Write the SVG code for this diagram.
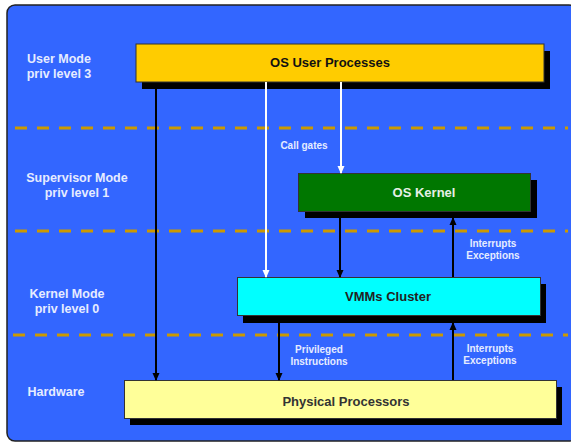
<svg xmlns="http://www.w3.org/2000/svg" width="571" height="445" viewBox="0 0 571 445">
<defs>
<marker id="ab" markerWidth="8" markerHeight="8" refX="7" refY="4" orient="auto" markerUnits="userSpaceOnUse"><path d="M0,0.5 L8,4 L0,7.5 Z" fill="#000"/></marker>
<marker id="aw" markerWidth="8" markerHeight="8" refX="7" refY="4" orient="auto" markerUnits="userSpaceOnUse"><path d="M0,0.5 L8,4 L0,7.5 Z" fill="#fff"/></marker>
</defs>
<style>
.lbl{font-family:"Liberation Sans",Arial,sans-serif;font-weight:bold;font-size:12.5px;fill:#E6ECFF;text-anchor:middle}
.sm{font-family:"Liberation Sans",Arial,sans-serif;font-weight:bold;font-size:10px;fill:#E6ECFF;text-anchor:middle}
.nt{font-family:"Liberation Sans",Arial,sans-serif;font-weight:bold;font-size:13px;text-anchor:middle}
.dash{stroke:#CC9900;stroke-width:3;stroke-dasharray:12 10;fill:none}
.shadow{fill:#000}
.box{stroke:#333;stroke-width:1}
.bl{stroke:#000;stroke-width:2;fill:none}
.wl{stroke:#fff;stroke-width:2;fill:none}
</style>
<rect x="7" y="5" width="570" height="436" rx="8" fill="#3366FF" stroke="#222" stroke-width="1.5"/>
<g id="bands">
<line class="dash" x1="15" y1="128" x2="568" y2="128"/>
<line class="dash" x1="15" y1="231" x2="568" y2="231"/>
<line class="dash" x1="13" y1="335" x2="568" y2="335"/>
</g>
<g id="levels">
<text class="lbl" x="59" y="63">User Mode</text>
<text class="lbl" x="59" y="78">priv level 3</text>
<text class="lbl" x="77" y="182">Supervisor Mode</text>
<text class="lbl" x="77" y="197">priv level 1</text>
<text class="lbl" x="67" y="298">Kernel Mode</text>
<text class="lbl" x="67" y="313">priv level 0</text>
<text class="lbl" x="56" y="396">Hardware</text>
</g>
<g id="os-user">
<rect class="shadow" x="142" y="51" width="408" height="38"/>
<rect class="box" x="136" y="44" width="408" height="38" fill="#FFCC00"/>
<text class="nt" x="330" y="67" fill="#111">OS User Processes</text>
</g>
<g id="os-kernel">
<rect class="shadow" x="305" y="180" width="232" height="38"/>
<rect class="box" x="298.5" y="173.5" width="232" height="38" fill="#007700"/>
<text class="nt" x="424" y="197" fill="#E6F0E6">OS Kernel</text>
</g>
<g id="vmms">
<rect class="shadow" x="243" y="284" width="303" height="39"/>
<rect class="box" x="237.5" y="277.5" width="303" height="38" fill="#00FFFF"/>
<text class="nt" x="388" y="301" fill="#222">VMMs Cluster</text>
</g>
<g id="phys">
<rect class="shadow" x="130" y="387" width="432" height="38"/>
<rect class="box" x="124.5" y="380.5" width="432" height="38" fill="#FFFF99"/>
<text class="nt" x="346" y="406" fill="#333">Physical Processors</text>
</g>
<g id="connectors">
<line class="bl" x1="156" y1="89" x2="156" y2="380" marker-end="url(#ab)"/>
<line class="wl" x1="266" y1="82" x2="266" y2="277" marker-end="url(#aw)"/>
<line class="wl" x1="341" y1="82" x2="341" y2="173" marker-end="url(#aw)"/>
<line class="bl" x1="340" y1="218" x2="340" y2="277" marker-end="url(#ab)"/>
<line class="bl" x1="453" y1="277" x2="453" y2="218" marker-end="url(#ab)"/>
<line class="bl" x1="279" y1="323" x2="279" y2="380" marker-end="url(#ab)"/>
<line class="bl" x1="453" y1="380" x2="453" y2="323" marker-end="url(#ab)"/>
<text class="sm" x="304" y="149">Call gates</text>
<text class="sm" x="493" y="247">Interrupts</text>
<text class="sm" x="493" y="259">Exceptions</text>
<text class="sm" x="319" y="353">Privileged</text>
<text class="sm" x="319" y="365">Instructions</text>
<text class="sm" x="490" y="352">Interrupts</text>
<text class="sm" x="490" y="364">Exceptions</text>
</g>
</svg>
